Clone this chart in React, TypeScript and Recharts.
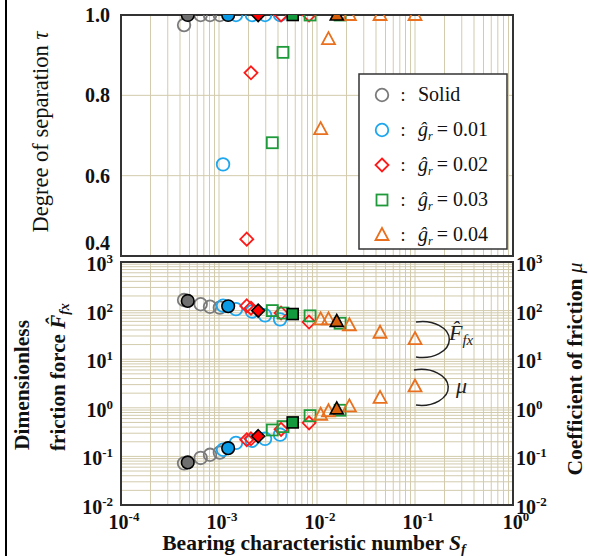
import {
  CartesianGrid,
  ReferenceArea,
  Scatter,
  ScatterChart,
  XAxis,
  YAxis,
} from "recharts";

// bearing characteristic number S_f, degree of separation tau,
// dimensionless friction force F and friction coefficient mu, per series
const solidSf = [4.4e-4, 4.8e-4, 6.5e-4, 8.1e-4, 1.02e-3];
const solidTau = [0.975, 1, 1, 1, 1];
const solidF = [165, 158, 135, 120, 115];
const solidMu = [0.072, 0.075, 0.093, 0.108, 0.12];

const g01Sf = [1.1e-3, 1.24e-3, 1.49e-3, 2.17e-3, 2.95e-3, 4.2e-3];
const g01Tau = [0.628, 1, 1, 1, 1, 1];
const g01F = [126, 123, 107, 96, 80, 66];
const g01Mu = [0.137, 0.148, 0.19, 0.21, 0.23, 0.28];

const g02Sf = [1.92e-3, 2.12e-3, 2.51e-3, 4.3e-3, 8.3e-3];
const g02Tau = [0.442, 0.856, 1, 1, 1];
const g02F = [125, 112, 100, 89, 58];
const g02Mu = [0.22, 0.23, 0.26, 0.36, 0.49];

const g03Sf = [3.5e-3, 4.5e-3, 5.65e-3, 8.5e-3, 1.72e-2];
const g03Tau = [0.682, 0.907, 1, 1, 1];
const g03F = [100, 89, 85, 78, 55];
const g03Mu = [0.35, 0.41, 0.5, 0.69, 0.89];

const g04Sf = [1.09e-2, 1.31e-2, 1.59e-2, 2.14e-2, 4.4e-2, 0.1];
const g04Tau = [0.716, 0.94, 1, 1, 1, 1];
const g04F = [66, 66, 60, 50, 35, 26];
const g04Mu = [0.72, 0.85, 0.95, 1.07, 1.6, 2.75];

// index of the solid-filled (reference) marker in each series
const filledIdx = [1, 1, 2, 2, 2];

const tauTicks = [0.4, 0.6, 0.8, 1.0];

const SERIF = '"Liberation Serif", "Times New Roman", serif';
const GRID = "#d2cbad";

const SERIES = [
  { key: "solid", shape: "circle", color: "#7b7b7b", fill: "#6f6f6f", sf: solidSf, tau: solidTau, f: solidF, mu: solidMu },
  { key: "g01", shape: "circle", color: "#1ea6ee", fill: "#0a9be6", sf: g01Sf, tau: g01Tau, f: g01F, mu: g01Mu },
  { key: "g02", shape: "diamond", color: "#ff1a1a", fill: "#ff0000", sf: g02Sf, tau: g02Tau, f: g02F, mu: g02Mu },
  { key: "g03", shape: "square", color: "#1f9a3a", fill: "#139a3e", sf: g03Sf, tau: g03Tau, f: g03F, mu: g03Mu },
  { key: "g04", shape: "triangle", color: "#e8701e", fill: "#d8600c", sf: g04Sf, tau: g04Tau, f: g04F, mu: g04Mu },
];

function logTicks(lo: number, hi: number) {
  const out: number[] = [];
  for (let e = lo; e < hi; e++) {
    for (let m = 1; m < 10; m++) out.push(Number((m * Math.pow(10, e)).toPrecision(3)));
  }
  out.push(Math.pow(10, hi));
  return out;
}

const X_TICKS = logTicks(-4, 0);
const Y_TICKS = logTicks(-2, 3);

function toPoints(xs: number[], ys: number[], filled: number) {
  const pts = xs.map((x, i) => ({ x, y: ys[i], filled: i === filled }));
  // draw the filled marker last so it sits on top
  return [...pts.filter((p) => !p.filled), ...pts.filter((p) => p.filled)];
}

function Marker(props: any) {
  const { cx, cy, payload, kind, color, fill } = props;
  if (cx == null || cy == null) return <g />;
  const filled = payload?.filled;
  const stroke = filled ? "#000" : color;
  const f = filled ? fill : "none";
  const sw = filled ? 1.6 : 1.8;
  if (kind === "circle") {
    return <circle cx={cx} cy={cy} r={6.3} stroke={stroke} fill={f} strokeWidth={sw} />;
  }
  if (kind === "diamond") {
    const d = 6.5;
    return (
      <polygon
        points={`${cx},${cy - d} ${cx + d},${cy} ${cx},${cy + d} ${cx - d},${cy}`}
        stroke={stroke}
        fill={f}
        strokeWidth={sw}
      />
    );
  }
  if (kind === "square") {
    return <rect x={cx - 5.5} y={cy - 5.5} width={11} height={11} stroke={stroke} fill={f} strokeWidth={sw} />;
  }
  return (
    <polygon
      points={`${cx},${cy - 7} ${cx + 6.5},${cy + 5} ${cx - 6.5},${cy + 5}`}
      stroke={stroke}
      fill={f}
      strokeWidth={sw}
      strokeLinejoin="miter"
    />
  );
}

function isDecade(v: number) {
  const e = Math.log10(v);
  return Math.abs(e - Math.round(e)) < 1e-6;
}

function PowTick(props: any) {
  const { x, y, payload, side } = props;
  const v = payload?.value;
  if (!v || !isDecade(v)) return <g />;
  const exp = Math.round(Math.log10(v));
  let tx = x;
  let ty = y + 9;
  let anchor: "start" | "middle" | "end" = "middle";
  if (side === "left") {
    tx = 113;
    anchor = "end";
  } else if (side === "right") {
    tx = 516;
    anchor = "start";
  } else {
    tx = x + 3;
    ty = 279;
  }
  return (
    <text x={tx} y={ty} textAnchor={anchor} fontFamily={SERIF} fontWeight="bold" fontSize={20} fill="#111">
      <tspan>10</tspan>
      <tspan dy={-8} fontSize={13}>
        {exp}
      </tspan>
    </text>
  );
}

function TauTick(props: any) {
  const { y, payload } = props;
  const v = payload?.value;
  const shift = v < 0.45 ? -6 : 7;
  return (
    <text x={110} y={y + shift} textAnchor="end" fontFamily={SERIF} fontWeight="bold" fontSize={20} fill="#111">
      {v.toFixed(1)}
    </text>
  );
}

function LegendIcon({ kind, color, x, y }: { kind: string; color: string; x: number; y: number }) {
  return <Marker cx={x} cy={y} kind={kind} color={color} fill={color} payload={{ filled: false }} />;
}

const LEGEND_LABELS = ["0.01", "0.02", "0.03", "0.04"];

function Overlay() {
  const rows = [95, 130, 165, 200, 235];
  return (
    <svg
      width={590}
      height={556}
      style={{ position: "absolute", left: 0, top: 0, pointerEvents: "none" }}
      fontFamily={SERIF}
    >
      <line x1={6} y1={0} x2={6} y2={556} stroke="#000" strokeWidth={2} />

      {/* legend */}
      <rect x={359} y={74} width={148} height={175} fill="#fff" stroke="#333" strokeWidth={1.5} />
      {SERIES.map((s, i) => (
        <g key={s.key}>
          <LegendIcon kind={s.shape} color={s.color} x={382} y={rows[i]} />
          <text x={403} y={rows[i] + 6} fontSize={18} fill="#111" textAnchor="middle">
            :
          </text>
          {i === 0 ? (
            <text x={418} y={rows[i] + 6} fontSize={20} fill="#111">
              Solid
            </text>
          ) : (
            <text x={418} y={rows[i] + 6} fontSize={20} fill="#111">
              <tspan fontStyle="italic">g&#770;</tspan>
              <tspan fontStyle="italic" fontSize={12} dy={4}>
                r
              </tspan>
              <tspan dy={-4} dx={4}>
                = {LEGEND_LABELS[i - 1]}
              </tspan>
            </text>
          )}
        </g>
      ))}

      {/* curve markers in the lower panel */}
      <path d="M 416 322 A 27 18 0 1 1 416 357" fill="none" stroke="#222" strokeWidth={1.5} />
      <text x={449} y={340} fontSize={22} fontStyle="italic" fill="#222">
        F&#770;
        <tspan fontSize={15} dy={5}>
          fx
        </tspan>
      </text>
      <path d="M 414 370 A 27 18 0 1 1 416 405" fill="none" stroke="#222" strokeWidth={1.5} />
      <text x={456} y={393} fontSize={22} fontStyle="italic" fill="#222">
        μ
      </text>

      {/* axis titles */}
      <text transform="translate(48,132) rotate(-90)" textAnchor="middle" fontSize={22.5} fill="#111">
        Degree of separation <tspan fontStyle="italic">τ</tspan>
      </text>
      <text transform="translate(29,385) rotate(-90)" textAnchor="middle" fontSize={21.5} fontWeight="bold" fill="#111">
        Dimensionless
      </text>
      <text transform="translate(65,377) rotate(-90)" textAnchor="middle" fontSize={21} fontWeight="bold" fill="#111">
        friction force <tspan fontStyle="italic">F&#770;</tspan>
        <tspan fontStyle="italic" fontSize={14} dy={4}>
          fx
        </tspan>
      </text>
      <text transform="translate(582,369) rotate(-90)" textAnchor="middle" fontSize={21.5} fontWeight="bold" fill="#111">
        Coefficient of friction <tspan fontStyle="italic" fontWeight="normal">μ</tspan>
      </text>
      <text x={314} y={550} textAnchor="middle" fontSize={21.5} fontWeight="bold" fill="#111">
        Bearing characteristic number <tspan fontStyle="italic">S</tspan>
        <tspan fontStyle="italic" fontSize={14} dy={4}>
          f
        </tspan>
      </text>
    </svg>
  );
}

export default function App() {
  return (
    <div
      style={{
        position: "absolute",
        left: 0,
        top: 0,
        width: 590,
        height: 556,
        background: "#fff",
        overflow: "hidden",
      }}
    >
      <div style={{ position: "absolute", left: 0, top: 0 }}>
        <ScatterChart width={590} height={262} margin={{ top: 15, right: 77, bottom: 0, left: 0 }}>
          <CartesianGrid stroke={GRID} strokeWidth={1} />
          <XAxis
            type="number"
            dataKey="x"
            scale="log"
            domain={[1e-4, 1]}
            ticks={X_TICKS}
            interval={0}
            height={6}
            tick={() => <g />}
            axisLine={false}
            tickLine={false}
            allowDataOverflow
          />
          <YAxis
            type="number"
            dataKey="y"
            domain={[0.4, 1]}
            ticks={tauTicks}
            interval={0}
            width={121}
            tick={(p: any) => <TauTick {...p} />}
            axisLine={false}
            tickLine={false}
            allowDataOverflow
          />
          <ReferenceArea x1={1e-4} x2={1} y1={0.4} y2={1} fill="none" stroke="#333" strokeWidth={2} />
          {SERIES.map((s, i) => (
            <Scatter
              key={s.key}
              data={toPoints(s.sf, s.tau, filledIdx[i])}
              isAnimationActive={false}
              shape={(p: any) => <Marker {...p} kind={s.shape} color={s.color} fill={s.fill} />}
            />
          ))}
        </ScatterChart>
      </div>

      <div style={{ position: "absolute", left: 0, top: 250 }}>
        <ScatterChart width={590} height={306} margin={{ top: 12, right: 0, bottom: 0, left: 0 }}>
          <CartesianGrid stroke={GRID} strokeWidth={1} yAxisId="left" />
          <XAxis
            type="number"
            dataKey="x"
            scale="log"
            domain={[1e-4, 1]}
            ticks={X_TICKS}
            interval={0}
            height={51}
            tick={(p: any) => <PowTick {...p} side="bottom" />}
            axisLine={false}
            tickLine={false}
            allowDataOverflow
          />
          <YAxis
            yAxisId="left"
            type="number"
            dataKey="y"
            scale="log"
            domain={[1e-2, 1e3]}
            ticks={Y_TICKS}
            interval={0}
            width={121}
            tick={(p: any) => <PowTick {...p} side="left" />}
            axisLine={false}
            tickLine={false}
            allowDataOverflow
          />
          <YAxis
            yAxisId="right"
            orientation="right"
            type="number"
            dataKey="y"
            scale="log"
            domain={[1e-2, 1e3]}
            ticks={Y_TICKS}
            interval={0}
            width={77}
            tick={(p: any) => <PowTick {...p} side="right" />}
            axisLine={false}
            tickLine={false}
            allowDataOverflow
          />
          <ReferenceArea
            yAxisId="left"
            x1={1e-4}
            x2={1}
            y1={1e-2}
            y2={1e3}
            fill="none"
            stroke="#333"
            strokeWidth={2}
          />
          {SERIES.map((s, i) => (
            <Scatter
              key={s.key + "-f"}
              yAxisId="left"
              data={toPoints(s.sf, s.f, filledIdx[i])}
              isAnimationActive={false}
              shape={(p: any) => <Marker {...p} kind={s.shape} color={s.color} fill={s.fill} />}
            />
          ))}
          {SERIES.map((s, i) => (
            <Scatter
              key={s.key + "-mu"}
              yAxisId="right"
              data={toPoints(s.sf, s.mu, filledIdx[i])}
              isAnimationActive={false}
              shape={(p: any) => <Marker {...p} kind={s.shape} color={s.color} fill={s.fill} />}
            />
          ))}
        </ScatterChart>
      </div>

      <Overlay />
    </div>
  );
}
